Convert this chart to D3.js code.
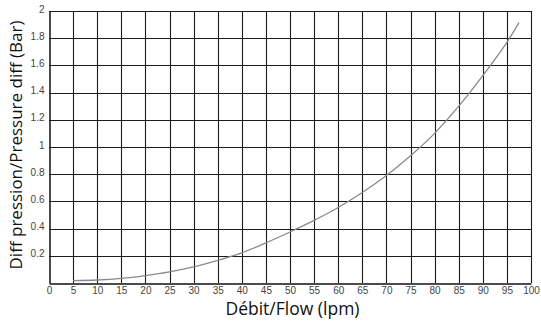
<!DOCTYPE html>
<html>
<head>
<meta charset="utf-8">
<script src="https://cdn.jsdelivr.net/npm/d3@7"></script>
<style>
  html, body { margin: 0; padding: 0; background: #fff; }
  svg { display: block; }
</style>
</head>
<body>
<svg id="chart" width="541" height="321"></svg>
<script>
// Flow (lpm) vs differential pressure (bar)
const flow     = [5, 10, 15, 20, 25, 30, 35, 40, 45, 50, 55, 60, 65, 70, 75, 80, 85, 90, 95, 97.5];
const pressure = [0.017, 0.022, 0.034, 0.055, 0.082, 0.118, 0.166, 0.222, 0.295, 0.375, 0.46, 0.555, 0.665, 0.79, 0.935, 1.10, 1.30, 1.525, 1.77, 1.915];
const xTicks = d3.range(0, 101, 5);
const yTicks = [0.2, 0.4, 0.6, 0.8, 1, 1.2, 1.4, 1.6, 1.8, 2];

const svg = d3.select("#chart");
const plot = { left: 49, right: 531, top: 11, bottom: 283 };

const x = d3.scaleLinear().domain([0, 100]).range([plot.left, plot.right]);
const y = d3.scaleLinear().domain([0, 2]).range([plot.bottom, plot.top]);

// grid
const grid = svg.append("g").attr("stroke", "#1a1a1a").attr("stroke-width", 1.1);
grid.selectAll("line.v").data(xTicks.filter(d => d > 0)).join("line")
  .attr("class", "v")
  .attr("x1", d => Math.round(x(d)) + 0.5).attr("x2", d => Math.round(x(d)) + 0.5)
  .attr("y1", plot.top).attr("y2", plot.bottom);
grid.selectAll("line.h").data(yTicks).join("line")
  .attr("class", "h")
  .attr("x1", plot.left).attr("x2", plot.right)
  .attr("y1", d => Math.round(y(d)) + 0.5).attr("y2", d => Math.round(y(d)) + 0.5);

// axes
const xAxis = svg.append("g").attr("transform", `translate(0,${plot.bottom + 0.5})`)
  .call(d3.axisBottom(x).tickValues(xTicks).tickSize(0).tickPadding(3));
const yAxis = svg.append("g").attr("transform", `translate(${plot.left + 0.5},0)`)
  .call(d3.axisLeft(y).tickValues(yTicks).tickFormat(d3.format("~g")).tickSize(0).tickPadding(5));
[xAxis, yAxis].forEach(a => {
  a.select(".domain").attr("stroke", "#111").attr("stroke-width", 1.5);
  a.selectAll("text").attr("fill", "#444").attr("font-family", "Liberation Sans, Arial, sans-serif").attr("font-size", 10);
});
yAxis.selectAll("text").attr("dy", "0.1em");

// curve
const pts = flow.map((f, i) => [f, pressure[i]]);
svg.append("path")
  .datum(pts)
  .attr("fill", "none")
  .attr("stroke", "#8a8a8a")
  .attr("stroke-width", 1.3)
  .attr("d", d3.line().x(d => x(d[0])).y(d => y(d[1])).curve(d3.curveCatmullRom.alpha(0.5)));

// titles
svg.append("text")
  .attr("x", 292.5).attr("y", 315)
  .attr("text-anchor", "middle")
  .attr("font-family", "Open Sans, Noto Sans, sans-serif")
  .attr("font-size", 17.5)
  .attr("fill", "#111")
  .text("Débit/Flow (lpm)");
svg.append("text")
  .attr("transform", `translate(21.5,145) rotate(-90)`)
  .attr("text-anchor", "middle")
  .attr("font-family", "Open Sans, Noto Sans, sans-serif")
  .attr("font-size", 17)
  .attr("fill", "#111")
  .text("Diff pression/Pressure diff (Bar)");
</script>
</body>
</html>
